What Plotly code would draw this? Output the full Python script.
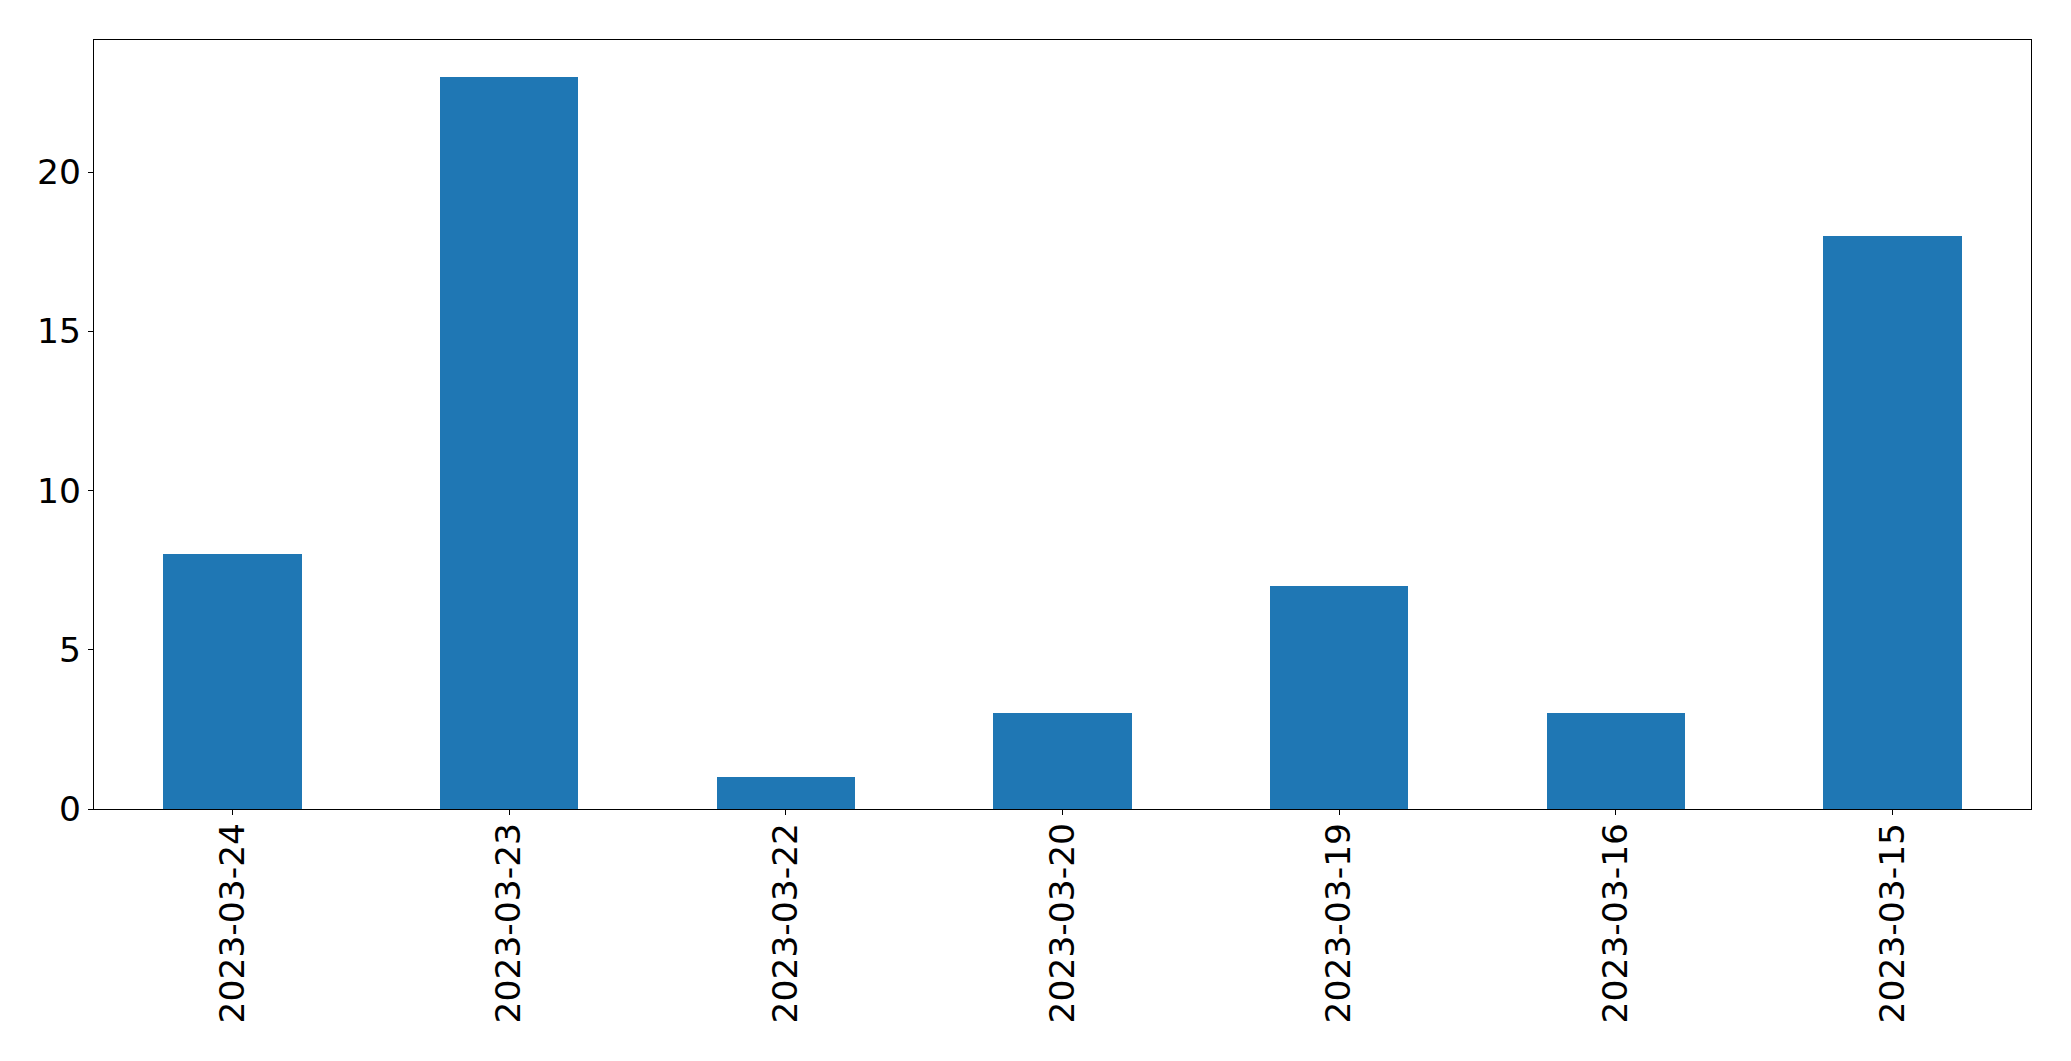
import plotly.graph_objects as go

dates = ["2023-03-24", "2023-03-23", "2023-03-22", "2023-03-20", "2023-03-19", "2023-03-16", "2023-03-15"]
counts = [8, 23, 1, 3, 7, 3, 18]
y_ticks = [0, 5, 10, 15, 20]

fig = go.Figure(go.Bar(x=list(range(len(dates))), y=counts, width=0.5,
                       marker=dict(color="#1f77b4", line=dict(width=0))))

axis_common = dict(showline=True, mirror=True, linecolor="black", linewidth=1.3,
                   ticks="outside", ticklen=5, tickwidth=1.3, tickcolor="black",
                   showgrid=False, zeroline=False,
                   tickfont=dict(family="DejaVu Sans", size=34.5, color="black"))

fig.update_xaxes(range=[-0.5, len(dates) - 0.5], tickmode="array",
                 tickvals=list(range(len(dates))), ticktext=dates, tickangle=-90,
                 ticklabelstandoff=-6, **axis_common)
fig.update_yaxes(range=[0, max(counts) * 1.05], tickmode="array", tickvals=y_ticks,
                 **axis_common)

# page body adds an 8px offset, so the figure is 8px smaller with margins trimmed
fig.update_layout(width=2063, height=1053, autosize=False,
                  margin=dict(l=86, r=40, t=32, b=252, pad=0),
                  plot_bgcolor="white", paper_bgcolor="white",
                  showlegend=False, bargap=0)

fig.write_html("out.html")
